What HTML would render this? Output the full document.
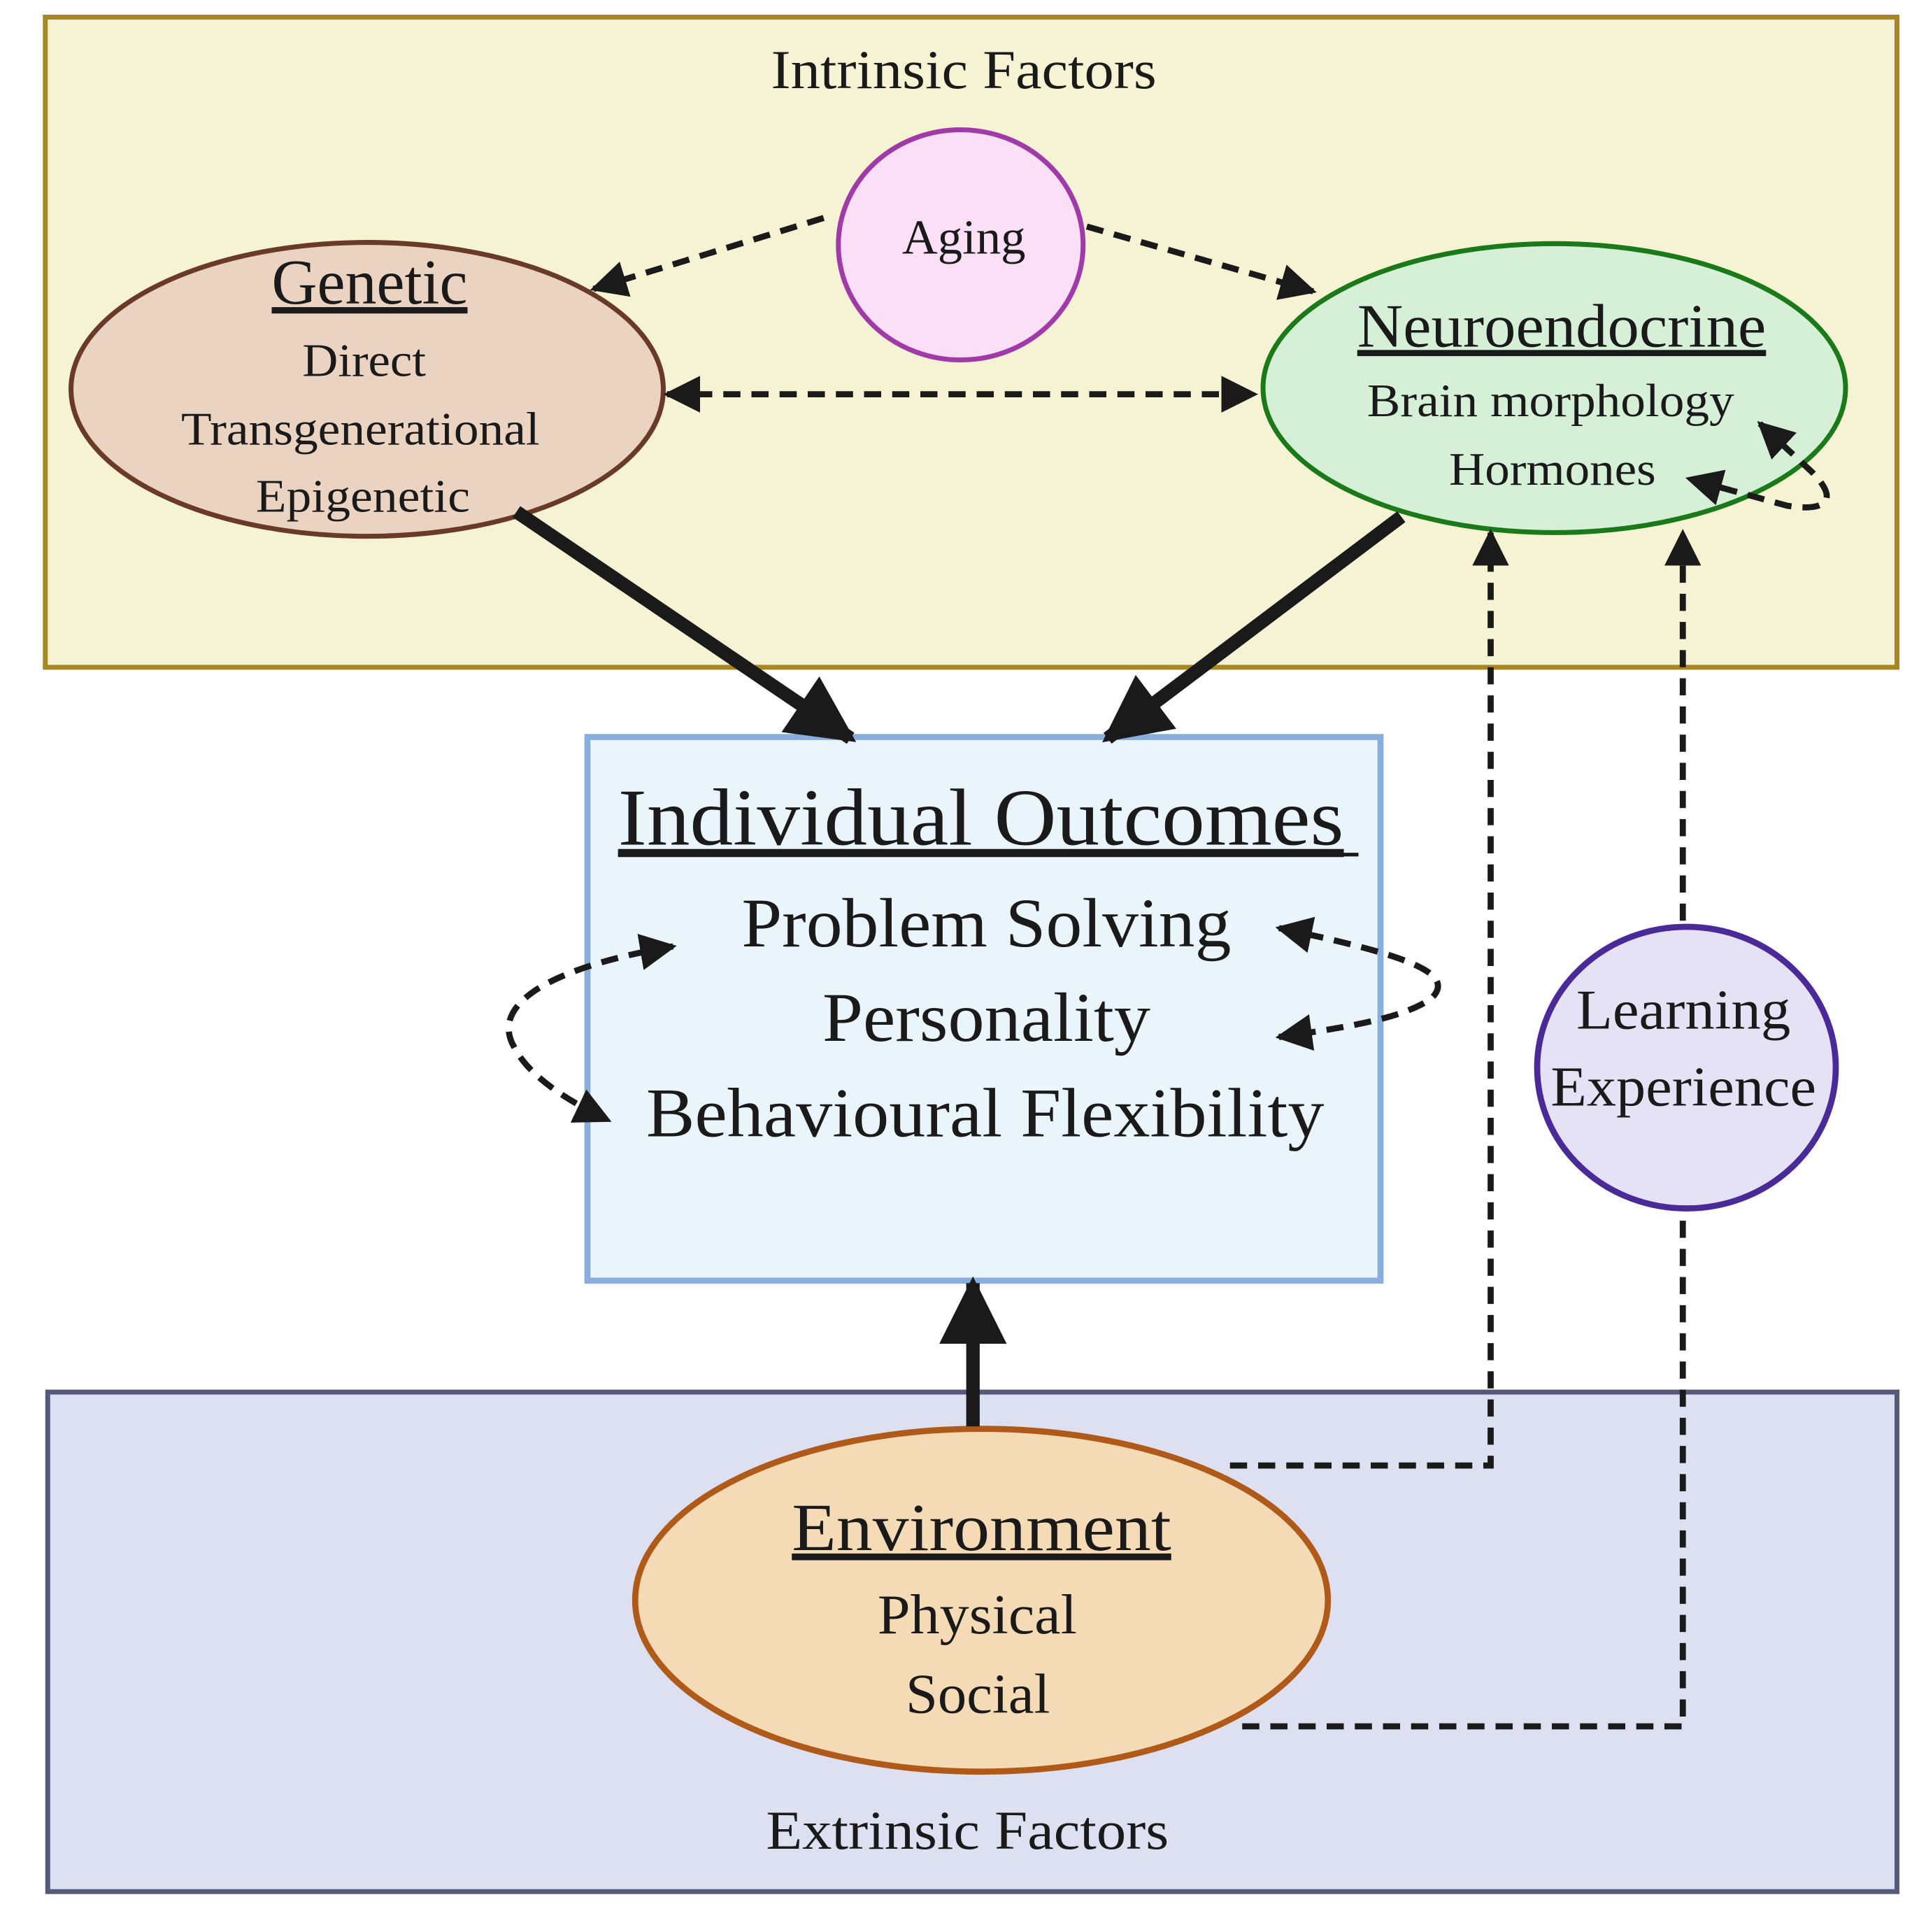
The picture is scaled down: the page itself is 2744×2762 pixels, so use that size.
<!DOCTYPE html>
<html><head><style>html,body{margin:0;padding:0;background:#fff}svg{display:block}</style></head>
<body>
<svg width="2744" height="2762" viewBox="0 0 1568 1578" preserveAspectRatio="none" xmlns="http://www.w3.org/2000/svg" font-family="Liberation Serif, serif" fill="#1a1a1a">
<defs>
<marker id="bh" viewBox="0 0 10 10" refX="9" refY="5" markerWidth="6" markerHeight="6" orient="auto" markerUnits="strokeWidth"><path d="M0,0 L10,5 L0,10 z" fill="#1a1a1a"/></marker>
<marker id="bs" viewBox="0 0 10 10" refX="9" refY="5" markerWidth="6" markerHeight="6" orient="auto-start-reverse" markerUnits="strokeWidth"><path d="M0,0 L10,5 L0,10 z" fill="#1a1a1a"/></marker>
<marker id="th" viewBox="0 0 10 10" refX="9" refY="5" markerWidth="5" markerHeight="6" orient="auto" markerUnits="strokeWidth"><path d="M0,0 L10,5 L0,10 z" fill="#1a1a1a"/></marker>
</defs>
<rect x="37" y="14" width="1513" height="531" fill="#f6f3d4" stroke="#a88620" stroke-width="4"/>
<rect x="39" y="1137" width="1511" height="408" fill="#dde0f0" stroke="#555a7a" stroke-width="4"/>
<text x="630" y="72" font-size="45" textLength="315" lengthAdjust="spacingAndGlyphs">Intrinsic Factors</text>
<text x="626" y="1510" font-size="45" textLength="329" lengthAdjust="spacingAndGlyphs">Extrinsic Factors</text>

<rect x="480" y="602" width="648" height="444" fill="#eaf4fb" stroke="#8aaedc" stroke-width="5"/>
<text x="505" y="690" font-size="66" textLength="593" lengthAdjust="spacingAndGlyphs" text-decoration="underline">Individual Outcomes</text>
<line x1="505" y1="698" x2="1110" y2="698" stroke="#1a1a1a" stroke-width="3"/>
<text x="606" y="773" font-size="57" textLength="400" lengthAdjust="spacingAndGlyphs">Problem Solving</text>
<text x="672" y="850" font-size="57" textLength="268" lengthAdjust="spacingAndGlyphs">Personality</text>
<text x="528" y="928" font-size="57" textLength="554" lengthAdjust="spacingAndGlyphs">Behavioural Flexibility</text>

<ellipse cx="785" cy="200" rx="100" ry="94" fill="#fadff7" stroke="#a03aa8" stroke-width="4"/>
<text x="737" y="207" font-size="40" textLength="101" lengthAdjust="spacingAndGlyphs">Aging</text>

<ellipse cx="300" cy="318" rx="242" ry="120" fill="#ebd3c2" stroke="#6a3a28" stroke-width="4"/>
<text x="222" y="248" font-size="52" textLength="160" lengthAdjust="spacingAndGlyphs" text-decoration="underline">Genetic</text>
<text x="247" y="307" font-size="38" textLength="101" lengthAdjust="spacingAndGlyphs">Direct</text>
<text x="148" y="363" font-size="38" textLength="293" lengthAdjust="spacingAndGlyphs">Transgenerational</text>
<text x="209" y="418" font-size="38" textLength="175" lengthAdjust="spacingAndGlyphs">Epigenetic</text>

<ellipse cx="1270" cy="317" rx="238" ry="118" fill="#d5f0d7" stroke="#1a7a1a" stroke-width="4"/>
<text x="1109" y="283" font-size="50" textLength="334" lengthAdjust="spacingAndGlyphs" text-decoration="underline">Neuroendocrine</text>
<text x="1117" y="340" font-size="38" textLength="300" lengthAdjust="spacingAndGlyphs">Brain morphology</text>
<text x="1184" y="396" font-size="38" textLength="169" lengthAdjust="spacingAndGlyphs">Hormones</text>

<ellipse cx="1378" cy="872" rx="122" ry="115" fill="#e6e2f6" stroke="#4a2a98" stroke-width="5"/>
<text x="1288" y="840" font-size="46" textLength="175" lengthAdjust="spacingAndGlyphs">Learning</text>
<text x="1267" y="903" font-size="46" textLength="217" lengthAdjust="spacingAndGlyphs">Experience</text>

<ellipse cx="802" cy="1307" rx="283" ry="140" fill="#f4dbb5" stroke="#b05a1a" stroke-width="5"/>
<text x="647" y="1266" font-size="55" textLength="310" lengthAdjust="spacingAndGlyphs" text-decoration="underline">Environment</text>
<text x="717" y="1334" font-size="46" textLength="163" lengthAdjust="spacingAndGlyphs">Physical</text>
<text x="740" y="1399" font-size="46" textLength="118" lengthAdjust="spacingAndGlyphs">Social</text>

<g stroke="#1a1a1a" stroke-width="5" fill="none" stroke-dasharray="14 9">
<line x1="673" y1="178" x2="485" y2="236" marker-end="url(#bh)"/>
<line x1="888" y1="185" x2="1073" y2="238" marker-end="url(#bh)"/>
<line x1="545" y1="322" x2="1025" y2="322" marker-start="url(#bs)" marker-end="url(#bh)"/>
<polyline points="1005,1197 1218,1197 1218,435" marker-end="url(#bh)"/>
<polyline points="1015,1410 1375,1410 1375,990"/>
<line x1="1375" y1="752" x2="1375" y2="435" marker-end="url(#bh)"/>
<path d="M550,773 C450,790 400,820 420,855 C430,875 455,895 497,915" marker-start="url(#bs)" marker-end="url(#bh)"/>
<path d="M1045,758 C1150,780 1190,795 1170,815 C1150,830 1110,838 1045,847" marker-start="url(#bs)" marker-end="url(#bh)"/>
<path d="M1438,346 L1480,385 C1505,410 1490,418 1460,413 L1380,391" marker-start="url(#bs)" marker-end="url(#bh)"/>
</g>
<g stroke="#1a1a1a" stroke-width="11" fill="none">
<line x1="422" y1="418" x2="695" y2="603" marker-end="url(#th)"/>
<line x1="1145" y1="422" x2="905" y2="603" marker-end="url(#th)"/>
<line x1="795" y1="1165" x2="795" y2="1048" marker-end="url(#th)"/>
</g>
</svg>
</body></html>
